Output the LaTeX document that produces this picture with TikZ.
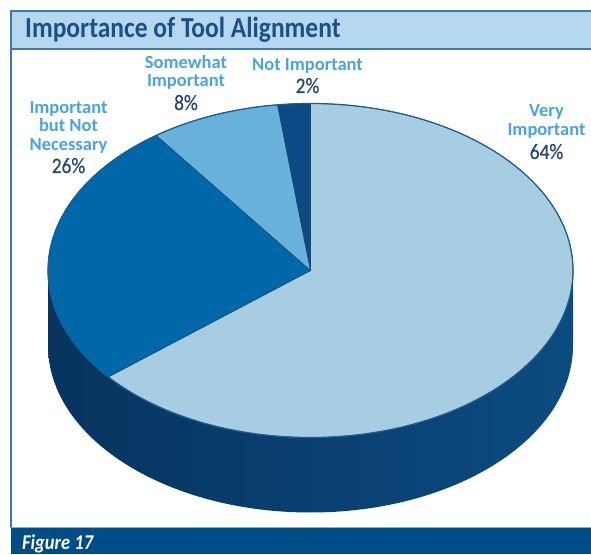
\documentclass[tikz,border=0pt]{standalone}
\usepackage{fontspec}
\setmainfont{Carlito}
\newfontfamily\narrowfont[FakeStretch=0.88]{Carlito}
\newfontfamily\pctfont[FakeStretch=0.88,FakeBold=0.6]{Carlito}
\definecolor{vi}{HTML}{A6CDE2}
\definecolor{inn}{HTML}{0067A9}
\definecolor{sw}{HTML}{68B1DA}
\definecolor{ni}{HTML}{0B4A84}
\definecolor{sideL}{HTML}{07345F}
\definecolor{sideR}{HTML}{0C4B80}
\definecolor{lblue}{HTML}{4AA3DE}
\definecolor{pct}{HTML}{2A4575}
\definecolor{barfill}{HTML}{B5D8F0}
\definecolor{frame}{HTML}{3F78AC}
\definecolor{titletext}{HTML}{1E4F85}
\definecolor{foot}{HTML}{004C86}
\definecolor{rim}{HTML}{1B5C92}
\tikzset{
  lab/.style={anchor=base, inner sep=0pt, text=lblue, font=\fontsize{18.5}{18.5}\selectfont\bfseries},
  pcnt/.style={anchor=base, inner sep=0pt, text=pct, font=\pctfont\fontsize{22}{22}\selectfont},
  sep/.style={draw=rim!80!black, line width=0.6pt},
}
\begin{document}
\begin{tikzpicture}[x=1pt,y=1pt]
\useasboundingbox (0,0) rectangle (591,554);
% frame
\fill[foot] (11,0) rectangle (591,26);
\draw[frame, line width=1.5pt] (11,26) -- (11,505);
\draw[frame!60!white, line width=0.8pt] (11,26.4) -- (591,26.4);
\filldraw[fill=barfill, draw=frame, line width=1.5pt] (11,505) rectangle (593,543);
\node[anchor=base west, inner sep=0pt, text=titletext, font=\narrowfont\fontsize{29}{29}\selectfont\bfseries] (title) at (25,516) {Importance of Tool Alignment};
\node[anchor=base west, inner sep=0pt, text=white, font=\narrowfont\fontsize{21}{21}\selectfont\bfseries\itshape] (fig) at (22,5) {Figure 17};
% pie
\coordinate (C) at (310.5,283.5);
\coordinate (B) at (310.5,208.5);
\shade[left color=sideL, right color=sideR] (48,283.5) -- (48,208.5)
  arc[start angle=180, end angle=360, x radius=262.5, y radius=167] -- (573,283.5)
  arc[start angle=360, end angle=180, x radius=262.5, y radius=167] -- cycle;
\filldraw[fill=vi, sep] (C) -- ++(90:262.5 and 167) arc[start angle=90, end angle=-140.4, x radius=262.5, y radius=167] -- cycle;
\filldraw[fill=inn, sep] (C) -- ++(219.6:262.5 and 167) arc[start angle=219.6, end angle=126, x radius=262.5, y radius=167] -- cycle;
\filldraw[fill=sw, sep] (C) -- ++(126:262.5 and 167) arc[start angle=126, end angle=97.2, x radius=262.5, y radius=167] -- cycle;
\filldraw[fill=ni, sep] (C) -- ++(97.2:262.5 and 167) arc[start angle=97.2, end angle=90, x radius=262.5, y radius=167] -- cycle;
\draw[rim, line width=1.2pt] (C) ellipse[x radius=262.5, y radius=167];
% labels
\node[lab] (inn1) at (68.5,440) {Important};
\node[lab] (inn2) at (68.5,422) {but Not};
\node[lab] (inn3) at (68.5,403) {Necessary};
\node[pcnt] (inn4) at (68.5,381) {26\%};
\node[lab] (sw1) at (186,485) {Somewhat};
\node[lab] (sw2) at (186,467) {Important};
\node[pcnt] (sw3) at (186,444) {8\%};
\node[lab] (ni1) at (307.5,483) {Not Important};
\node[pcnt] (ni2) at (307.5,461) {2\%};
\node[lab] (vi1) at (546.5,437) {Very};
\node[lab] (vi2) at (546.5,418) {Important};
\node[pcnt] (vi3) at (546.5,395) {64\%};
\end{tikzpicture}
\end{document}
